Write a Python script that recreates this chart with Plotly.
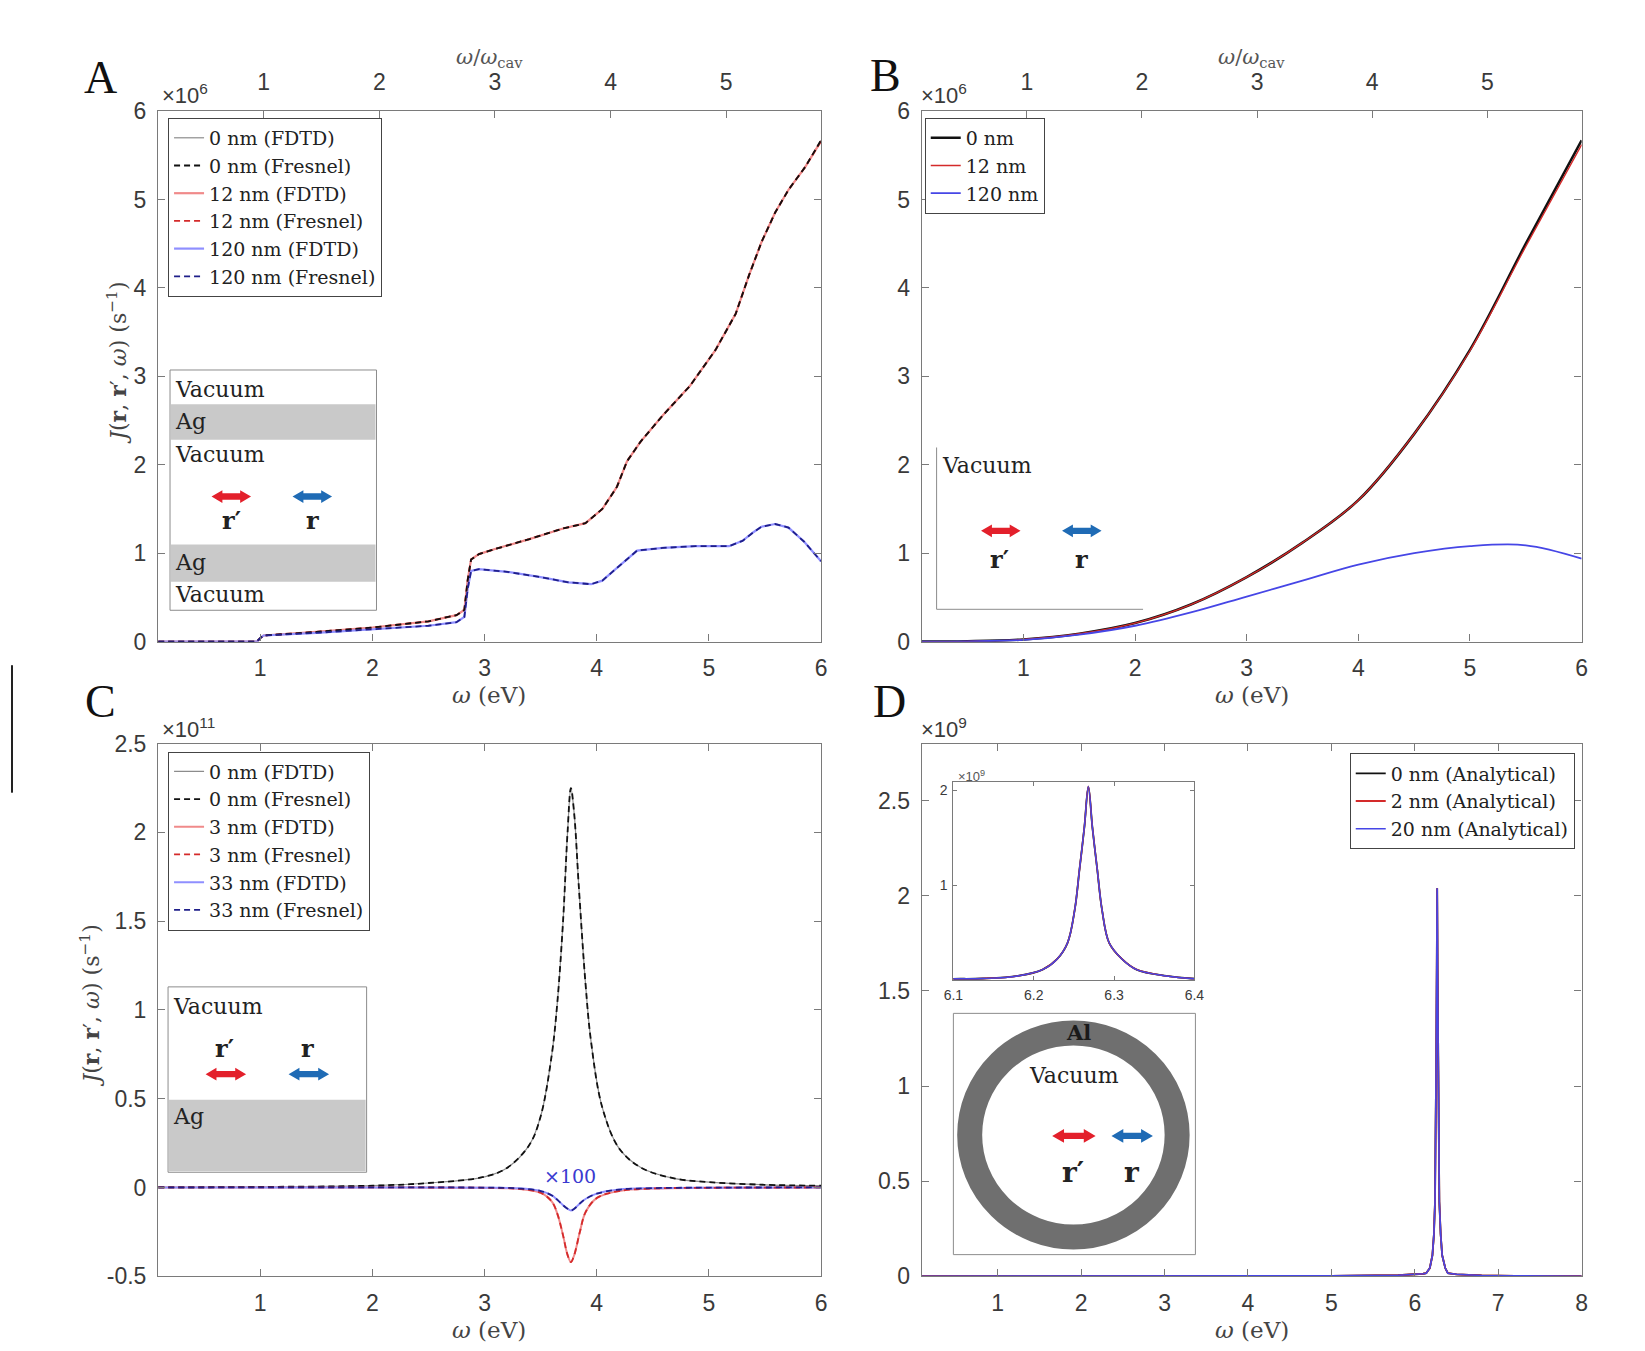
import plotly.graph_objects as go

W, H = 1645, 1351
def fx(px): return px / W
def fy(py): return 1 - py / H

# ---------------- data ----------------
OMEGA_CAV = 1.031  # eV, top-axis scale

# Panel A (units of 1e6 s^-1)
xA_upper = [0.09, 0.5, 0.97, 1.0, 1.03, 1.5, 2.0, 2.5, 2.75, 2.82, 2.85, 2.88, 2.95, 3.1, 3.4, 3.7,
            3.9, 4.05, 4.18, 4.27, 4.39, 4.59, 4.83, 5.06, 5.24, 5.36, 5.47, 5.59, 5.71, 5.86, 6.0]
yA_0nm = [0.0, 0.0, 0.0, 0.04, 0.07, 0.11, 0.16, 0.23, 0.30, 0.36, 0.70, 0.93, 0.99, 1.05, 1.16, 1.28,
          1.34, 1.50, 1.75, 2.04, 2.26, 2.56, 2.89, 3.30, 3.71, 4.15, 4.52, 4.85, 5.11, 5.37, 5.67]
yA_12nm = [0.0, 0.0, 0.0, 0.04, 0.07, 0.11, 0.16, 0.23, 0.30, 0.36, 0.70, 0.93, 0.99, 1.05, 1.16, 1.28,
           1.34, 1.50, 1.75, 2.04, 2.26, 2.56, 2.89, 3.30, 3.71, 4.15, 4.52, 4.85, 5.11, 5.37, 5.66]
xA_120 = [0.09, 0.5, 0.97, 1.0, 1.03, 1.5, 2.0, 2.5, 2.75, 2.82, 2.85, 2.88, 2.95, 3.2, 3.5, 3.75,
          3.95, 4.05, 4.15, 4.24, 4.36, 4.59, 4.88, 5.18, 5.30, 5.40, 5.47, 5.59, 5.71, 5.85, 6.0]
yA_120nm = [0.0, 0.0, 0.0, 0.04, 0.07, 0.10, 0.14, 0.18, 0.22, 0.28, 0.60, 0.80, 0.82, 0.79, 0.73, 0.67,
            0.65, 0.69, 0.80, 0.90, 1.03, 1.06, 1.08, 1.08, 1.14, 1.24, 1.30, 1.33, 1.29, 1.13, 0.91]

# Panel B (units of 1e6 s^-1)
xB = [0.09, 0.5, 1.0, 1.5, 2.0, 2.5, 3.0, 3.5, 4.0, 4.5, 5.0, 5.5, 6.0]
yB_0nm = [0.0, 0.004, 0.025, 0.09, 0.21, 0.42, 0.73, 1.12, 1.60, 2.35, 3.30, 4.50, 5.67]
yB_12nm = [0.0, 0.004, 0.025, 0.09, 0.21, 0.42, 0.73, 1.12, 1.60, 2.35, 3.29, 4.47, 5.62]
yB_120nm = [0.0, 0.003, 0.02, 0.08, 0.18, 0.33, 0.51, 0.69, 0.87, 1.00, 1.08, 1.09, 0.94]

# Panel C (units of 1e11 s^-1)
xC_peak = [0.09, 1.0, 2.0, 2.5, 3.0, 3.2, 3.4, 3.5, 3.6, 3.65, 3.7, 3.74, 3.77, 3.8, 3.84, 3.9,
           3.95, 4.05, 4.2, 4.4, 4.7, 5.0, 5.5, 6.0]
yC_0nm = [0.0, 0.003, 0.01, 0.025, 0.06, 0.11, 0.24, 0.40, 0.75, 1.05, 1.50, 2.00, 2.25, 2.10, 1.70, 1.15,
          0.82, 0.45, 0.22, 0.11, 0.05, 0.03, 0.015, 0.01]
xC_dip = [0.09, 1.0, 2.0, 3.0, 3.3, 3.5, 3.6, 3.65, 3.7, 3.74, 3.77, 3.8, 3.85, 3.9, 4.0, 4.2, 4.5, 5.0, 6.0]
yC_3nm = [0.0, 0.0, 0.0, -0.002, -0.008, -0.03, -0.08, -0.15, -0.27, -0.38, -0.42, -0.38, -0.25, -0.14,
          -0.06, -0.02, -0.006, -0.002, 0.0]
yC_33nm_x100 = [0.0, 0.0, 0.0, -0.001, -0.005, -0.02, -0.045, -0.07, -0.10, -0.12, -0.13, -0.12, -0.09,
                -0.065, -0.035, -0.012, -0.004, -0.001, 0.0]

# Panel D (units of 1e9 s^-1)
xD = [0.09, 2.0, 4.0, 5.0, 5.8, 6.0, 6.1, 6.137, 6.18, 6.211, 6.229, 6.242, 6.251, 6.257, 6.263, 6.268,
      6.273, 6.279, 6.285, 6.294, 6.31, 6.328, 6.365, 6.396, 6.5, 6.8, 7.2, 8.0]
yD_0nm = [0.0, 0.0, 0.001, 0.002, 0.005, 0.008, 0.013, 0.016, 0.043, 0.11, 0.22, 0.39, 0.74, 1.17, 1.61, 2.04,
          1.61, 1.17, 0.74, 0.39, 0.22, 0.11, 0.043, 0.016, 0.01, 0.004, 0.002, 0.0]
yD_2nm = list(yD_0nm)
yD_20nm = list(yD_0nm)

ticksA_x = [1, 2, 3, 4, 5, 6]
ticksA_y = [0, 1, 2, 3, 4, 5, 6]
ticks_top = [1, 2, 3, 4, 5]
ticksC_y = [-0.5, 0, 0.5, 1, 1.5, 2, 2.5]
ticksC_ytext = ['-0.5', '0', '0.5', '1', '1.5', '2', '2.5']
ticksD_x = [1, 2, 3, 4, 5, 6, 7, 8]
ticksD_y = [0, 0.5, 1, 1.5, 2, 2.5]
ticksDin_x = [6.1, 6.2, 6.3, 6.4]
ticksDin_y = [1, 2]

# ---------------- styles ----------------
SERIF = "DejaVu Serif"
TSERIF = "Liberation Serif"
SANS = "Liberation Sans"
TXT = "#3a3a3a"
AX = "#7a7a7a"
GRAY = "#8c8c8c"
BLACK = "#111111"
PINK = "#f08a8a"
RED = "#d42a2a"
LBLUE = "#8f8fff"
NAVY = "#1f1f8a"
BLUE = "#4646e6"
DASH = "6px,4px"

fig = go.Figure()

def line(x, y, name, color, width, dash=None, xa='x', ya='y', legend='legend', rank=1, show=True, shape='linear'):
    fig.add_trace(go.Scatter(
        x=x, y=y, mode='lines', name=name, xaxis=xa, yaxis=ya, legend=legend,
        legendrank=rank, showlegend=show,
        line=dict(color=color, width=width, dash=dash, shape=shape),
        hoverinfo='skip'))

# Panel A
line(xA_upper, yA_0nm, '0 nm (FDTD)', GRAY, 1.2, rank=1)
line(xA_upper, yA_12nm, '12 nm (FDTD)', PINK, 2.2, rank=3)
line(xA_120, yA_120nm, '120 nm (FDTD)', LBLUE, 2.2, rank=5)
line(xA_upper, yA_12nm, '12 nm (Fresnel)', RED, 1.8, DASH, rank=4)
line(xA_upper, yA_0nm, '0 nm (Fresnel)', BLACK, 1.8, DASH, rank=2)
line(xA_120, yA_120nm, '120 nm (Fresnel)', NAVY, 1.8, DASH, rank=6)
fig.add_trace(go.Scatter(x=[None], y=[None], xaxis='x5', yaxis='y', showlegend=False, hoverinfo='skip'))

# Panel B
line(xB, yB_0nm, '0 nm', BLACK, 2.6, xa='x2', ya='y2', legend='legend2', rank=1, shape='spline')
line(xB, yB_12nm, '12 nm', RED, 1.3, xa='x2', ya='y2', legend='legend2', rank=2, shape='spline')
line(xB, yB_120nm, '120 nm', BLUE, 1.8, xa='x2', ya='y2', legend='legend2', rank=3, shape='spline')
fig.add_trace(go.Scatter(x=[None], y=[None], xaxis='x6', yaxis='y2', showlegend=False, hoverinfo='skip'))

# Panel C
line(xC_peak, yC_0nm, '0 nm (FDTD)', GRAY, 1.2, xa='x3', ya='y3', legend='legend3', rank=1, shape='spline')
line(xC_dip, yC_3nm, '3 nm (FDTD)', PINK, 2.0, xa='x3', ya='y3', legend='legend3', rank=3, shape='spline')
line(xC_dip, yC_33nm_x100, '33 nm (FDTD)', LBLUE, 2.0, xa='x3', ya='y3', legend='legend3', rank=5, shape='spline')
line(xC_peak, yC_0nm, '0 nm (Fresnel)', BLACK, 1.8, DASH, xa='x3', ya='y3', legend='legend3', rank=2, shape='spline')
line(xC_dip, yC_3nm, '3 nm (Fresnel)', RED, 1.8, DASH, xa='x3', ya='y3', legend='legend3', rank=4, shape='spline')
line(xC_dip, yC_33nm_x100, '33 nm (Fresnel)', NAVY, 1.8, DASH, xa='x3', ya='y3', legend='legend3', rank=6, shape='spline')

# Panel D
line(xD, yD_0nm, '0 nm (Analytical)', BLACK, 1.8, xa='x4', ya='y4', legend='legend4', rank=1)
line(xD, yD_2nm, '2 nm (Analytical)', RED, 1.8, xa='x4', ya='y4', legend='legend4', rank=2)
line(xD, yD_20nm, '20 nm (Analytical)', BLUE, 1.6, xa='x4', ya='y4', legend='legend4', rank=3)
# Panel D inset
line(xD, yD_0nm, '', BLACK, 1.8, xa='x7', ya='y7', show=False, shape='spline')
line(xD, yD_2nm, '', RED, 1.6, xa='x7', ya='y7', show=False, shape='spline')
line(xD, yD_20nm, '', BLUE, 1.4, xa='x7', ya='y7', show=False, shape='spline')

# ---------------- axes ----------------
def axis(**kw):
    d = dict(showline=True, linecolor=AX, linewidth=1.4, ticks='inside', ticklen=7, tickwidth=1.2,
             tickcolor=AX, showgrid=False, zeroline=False,
             tickfont=dict(family=SANS, size=23, color=TXT), ticklabelstandoff=6)
    d.update(kw)
    return d

colL = [fx(150), fx(821)]
colR = [fx(923), fx(1591)]
rowT = [fy(641), fy(100)]
rowB = [fy(1288), fy(745)]
INFONT = dict(family=SANS, size=14, color=TXT)

layout_axes = dict(
    xaxis=axis(domain=colL, anchor='y', range=[0.09, 6], tickvals=ticksA_x, mirror=False),
    yaxis=axis(domain=rowT, anchor='x', range=[0, 6], tickvals=ticksA_y, mirror='ticks'),
    xaxis5=axis(overlaying='x', anchor='y', side='top', range=[0.09 / OMEGA_CAV, 6 / OMEGA_CAV],
                tickvals=ticks_top, ticklabelstandoff=11),
    xaxis2=axis(domain=colR, anchor='y2', range=[0.09, 6], tickvals=ticksA_x, mirror=False),
    yaxis2=axis(domain=rowT, anchor='x2', range=[0, 6], tickvals=ticksA_y, mirror='ticks'),
    xaxis6=axis(overlaying='x2', anchor='y2', side='top', range=[0.09 / OMEGA_CAV, 6 / OMEGA_CAV],
                tickvals=ticks_top, ticklabelstandoff=11),
    xaxis3=axis(domain=colL, anchor='y3', range=[0.09, 6], tickvals=ticksA_x, mirror='ticks'),
    yaxis3=axis(domain=rowB, anchor='x3', range=[-0.5, 2.5], tickvals=ticksC_y, ticktext=ticksC_ytext, mirror='ticks'),
    xaxis4=axis(domain=colR, anchor='y4', range=[0.09, 8], tickvals=ticksD_x, mirror='ticks'),
    yaxis4=axis(domain=rowB, anchor='x4', range=[0, 2.8], tickvals=ticksD_y, mirror='ticks'),
    xaxis7=axis(domain=[fx(955), fx(1199)], anchor='y7', range=[6.1, 6.4], tickvals=ticksDin_x, mirror='ticks',
                ticklen=4, linewidth=1, tickfont=INFONT, ticklabelstandoff=2),
    yaxis7=axis(domain=[fy(986), fy(784)], anchor='x7', range=[0, 2.09], tickvals=ticksDin_y, mirror='ticks',
                ticklen=4, linewidth=1, tickfont=INFONT, ticklabelstandoff=2),
)

def leg(px, py, size=19, xanchor='left'):
    return dict(x=fx(px), y=fy(py), xanchor=xanchor, yanchor='top', bgcolor='white', bordercolor='#444',
                borderwidth=1, font=dict(family=SERIF, size=size, color='#222'), tracegroupgap=0,
                itemwidth=30, traceorder='normal')

# ---------------- annotations ----------------
ann = []
def txt(px, py, s, size=20, color='#222', family=SERIF, xanchor='left', yanchor='middle', angle=0):
    ann.append(dict(xref='paper', yref='paper', x=fx(px), y=fy(py), text=s, showarrow=False,
                    xanchor=xanchor, yanchor=yanchor, textangle=angle,
                    font=dict(family=family, size=size, color=color)))

# panel letters
txt(92, 66, 'A', 46, '#111', TSERIF, xanchor='center')
txt(886, 64, 'B', 46, '#111', TSERIF, xanchor='center')
txt(92, 702, 'C', 46, '#111', TSERIF, xanchor='center')
txt(890, 702, 'D', 46, '#111', TSERIF, xanchor='center')
# exponents
txt(152, 83, '×10<sup>6</sup>', 22, TXT, SANS)
txt(920, 83, '×10<sup>6</sup>', 22, TXT, SANS)
txt(152, 729, '×10<sup>11</sup>', 22, TXT, SANS)
txt(920, 729, '×10<sup>9</sup>', 22, TXT, SANS)
txt(958, 778, '×10<sup>9</sup>', 13, '#555', SANS)
# top axis titles
txt(485, 46, '<i>ω</i>/<i>ω</i><sub>cav</sub>', 21, '#555', xanchor='center')
txt(1257, 46, '<i>ω</i>/<i>ω</i><sub>cav</sub>', 21, '#555', xanchor='center')
# x titles
for cx, cy in [(485, 695), (1257, 695), (485, 1343), (1257, 1343)]:
    txt(cx, cy, '<i>ω</i> (eV)', 23, '#444', xanchor='center')
# y titles
YT = '<i>J</i>(<b>r</b>, <b>r</b>′, <i>ω</i>) (s<sup>−1</sup>)'
txt(108, 357, YT, 22, '#444', xanchor='center', angle=-90)
txt(80, 1012, YT, 22, '#444', xanchor='center', angle=-90)

# ---------------- shapes ----------------
shapes = []
def rect(x0, y0, x1, y1, fill='white', lc='#8c8c8c', lw=1):
    shapes.append(dict(type='rect', xref='paper', yref='paper', x0=fx(x0), x1=fx(x1), y0=fy(y1), y1=fy(y0),
                       fillcolor=fill, line=dict(color=lc, width=lw), layer='above'))
def seg(x0, y0, x1, y1, lc='#8c8c8c', lw=1):
    shapes.append(dict(type='line', xref='paper', yref='paper', x0=fx(x0), x1=fx(x1), y0=fy(y0), y1=fy(y1),
                       line=dict(color=lc, width=lw), layer='above'))
def darrow(xl, xr, yc, color, head=11, hh=6.5, sh=3.2):
    pts = [(xl, yc), (xl + head, yc - hh), (xl + head, yc - sh), (xr - head, yc - sh), (xr - head, yc - hh),
           (xr, yc), (xr - head, yc + hh), (xr - head, yc + sh), (xl + head, yc + sh), (xl + head, yc + hh)]
    path = 'M ' + ' L '.join(f'{fx(px):.6f},{fy(py):.6f}' for px, py in pts) + ' Z'
    shapes.append(dict(type='path', xref='paper', yref='paper', path=path, fillcolor=color,
                       line=dict(width=0), layer='above'))

ARR_RED = '#e3202b'
ARR_BLUE = '#1f6bb5'

# inset A
rect(162, 364, 371, 609)
rect(163, 399, 370, 435, fill='#c9c9c9', lw=0)
rect(163, 542, 370, 580, fill='#c9c9c9', lw=0)
txt(165, 384, 'Vacuum', 22)
txt(165, 417, 'Ag', 22)
txt(165, 450, 'Vacuum', 22)
txt(165, 560, 'Ag', 22)
txt(165, 593, 'Vacuum', 22)
darrow(204, 244, 493, ARR_RED)
darrow(286, 326, 493, ARR_BLUE)
txt(224, 517, '<b>r′</b>', 24, xanchor='center')
txt(306, 517, '<b>r</b>', 24, xanchor='center')

# inset B
seg(938, 443, 938, 608)
seg(938, 608, 1147, 608)
txt(941, 461, 'Vacuum', 22)
darrow(983, 1023, 528, ARR_RED)
darrow(1065, 1105, 528, ARR_BLUE)
txt(1002, 557, '<b>r′</b>', 24, xanchor='center')
txt(1085, 557, '<b>r</b>', 24, xanchor='center')

# inset C
rect(160, 993, 361, 1182)
rect(161, 1108, 360, 1181, fill='#c9c9c9', lw=0)
txt(163, 1013, 'Vacuum', 22)
txt(217, 1056, '<b>r′</b>', 24, xanchor='center')
txt(301, 1056, '<b>r</b>', 24, xanchor='center')
darrow(198, 239, 1082, ARR_RED)
darrow(282, 323, 1082, ARR_BLUE)
txt(163, 1125, 'Ag', 22)
ann.append(dict(xref='x3', yref='y3', x=3.76, y=0.065, text='×100', showarrow=False,
                font=dict(family=SERIF, size=19, color='#3a3ad0')))

# inset D ring
rect(955, 1020, 1200, 1266)
shapes.append(dict(type='circle', xref='paper', yref='paper', x0=fx(1076.5 - 105), x1=fx(1076.5 + 105),
                   y0=fy(1144 + 104), y1=fy(1144 - 104), line=dict(color='#6f6f6f', width=25),
                   fillcolor='rgba(0,0,0,0)', layer='above'))
txt(1082, 1040, '<b>Al</b>', 21, '#1a1a1a', xanchor='center')
txt(1077, 1083, 'Vacuum', 22, xanchor='center')
darrow(1055, 1099, 1145, ARR_RED, head=12, hh=7)
darrow(1115, 1157, 1145, ARR_BLUE, head=12, hh=7)
txt(1076, 1182, '<b>r′</b>', 28, xanchor='center')
txt(1136, 1182, '<b>r</b>', 28, xanchor='center')

# cropped-edge artifact at far left
seg(2, 665, 2, 795, lc='#222', lw=2)

fig.update_layout(
    width=W, height=H, margin=dict(l=0, r=0, t=0, b=0),
    paper_bgcolor='white', plot_bgcolor='white', showlegend=True,
    legend=leg(160, 107), legend2=leg(926, 107), legend3=leg(160, 753), legend4=leg(1584, 755, xanchor='right'),
    annotations=ann, shapes=shapes, **layout_axes)

fig.write_html("out.html", config={'displayModeBar': False},
               post_script="document.body.style.margin='0px';document.body.style.padding='0px';")
